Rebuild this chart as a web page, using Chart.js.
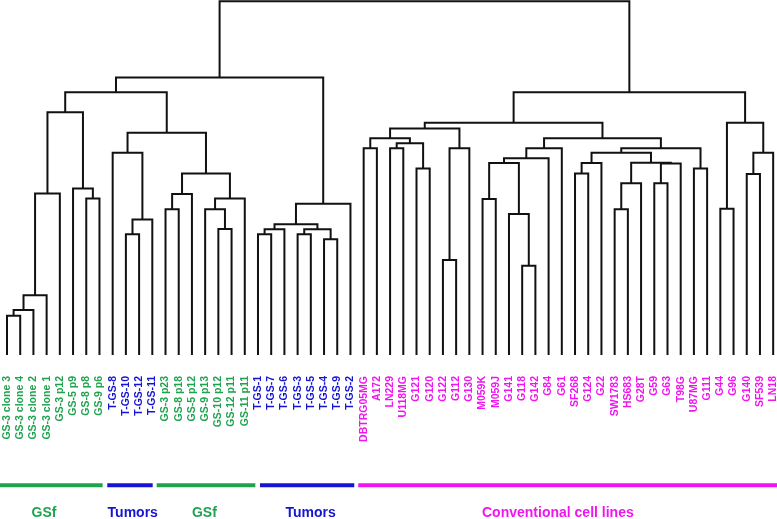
<!DOCTYPE html>
<html>
<head>
<meta charset="utf-8">
<script src="https://cdn.jsdelivr.net/npm/chart.js@4/dist/chart.umd.min.js"></script>
<style>
  html, body { margin: 0; padding: 0; background: #fff; }
  #chart { display: block; }
</style>
</head>
<body>
<canvas id="chart" width="777" height="519"></canvas>
<script>
// leaves, left to right
const leafLabels = [
  'GS-3 clone 3', 'GS-3 clone 4', 'GS-3 clone 2', 'GS-3 clone 1', 'GS-3 p12', 'GS-5 p9', 'GS-8 p8', 'GS-9 p6',
  'T-GS-8', 'T-GS-10', 'T-GS-12', 'T-GS-11',
  'GS-3 p23', 'GS-8 p18', 'GS-5 p12', 'GS-9 p13', 'GS-10 p12', 'GS-12 p11', 'GS-11 p11',
  'T-GS-1', 'T-GS-7', 'T-GS-6', 'T-GS-3', 'T-GS-5', 'T-GS-4', 'T-GS-9', 'T-GS-2',
  'DBTRG05MG', 'A172', 'LN229', 'U118MG', 'G121', 'G120', 'G122', 'G112', 'G130', 'M059K', 'M059J',
  'G141', 'G118', 'G142', 'G84', 'G61', 'SF268', 'G124', 'G22', 'SW1783', 'HS683', 'G28T', 'G59',
  'G63', 'T98G', 'U87MG', 'G111', 'G44', 'G96', 'G140', 'SF539', 'LN18',
];

// linkage: ids 0..58 are leaves, merge k creates cluster 59 + k
const mergeLeft = [
  0, 59, 60, 61, 6, 5, 62, 9, 66, 8, 12, 69, 16, 15, 72, 70, 68, 65,
  19, 77, 22, 24, 79, 78, 82, 76,
  27, 29, 31, 86, 85, 33, 90, 89, 36, 39, 38, 93, 96, 97, 43, 99, 46, 101, 49, 103, 102, 100, 52, 106, 98, 92,
  54, 56, 112, 111, 110, 84,
];
const mergeRight = [
  1, 2, 3, 4, 7, 63, 64, 10, 11, 67, 13, 14, 17, 71, 18, 73, 74, 75,
  20, 21, 23, 25, 80, 81, 26, 83,
  28, 30, 32, 87, 88, 34, 35, 91, 37, 40, 94, 95, 41, 42, 44, 45, 47, 48, 50, 51, 104, 105, 53, 107, 108, 109,
  55, 57, 58, 113, 114, 115,
];
const mergeHeight = [
  11.1, 12.7, 16.9, 45.6, 44.2, 47.0, 68.6, 34.1, 38.3, 57.1, 41.2, 45.5, 35.6, 41.2, 44.2, 51.3, 62.8, 74.2,
  34.1, 35.5, 34.1, 32.7, 35.5, 36.9, 42.7, 78.4,
  58.4, 58.4, 52.7, 59.8, 61.2, 26.8, 58.4, 64.0, 44.1, 25.2, 39.8, 54.2, 55.6, 58.4, 51.3, 54.2, 41.2, 48.5,
  48.5, 54.1, 54.3, 57.1, 52.7, 58.4, 61.2, 65.6,
  41.3, 51.1, 57.1, 65.6, 74.2, 99.9,
];

// sample groups (leaf index ranges) and the coloured bars under them
const groupNames = ['GSf', 'Tumors', 'GSf', 'Tumors', 'Conventional cell lines'];
const groupFirstLeaf = [0, 8, 12, 19, 27];
const groupLastLeaf = [7, 11, 18, 26, 58];
const groupColors = ['#1fa34f', '#1414d2', '#1fa34f', '#1414d2', '#f014f0'];
const barFrom = [-0.53, 7.59, 11.33, 19.15, 26.59];
const barTo = [7.24, 11.03, 18.80, 26.29, 58.3];
const groupTextX = [2.8, 9.52, 14.94, 22.99, 41.7];

const LEAF_LABEL_Y = -5.93;
const BAR_Y = -36.8;
const GROUP_TEXT_Y = -44.55;

const leafColor = (i) => {
  const g = groupFirstLeaf.findIndex((first, k) => i >= first && i <= groupLastLeaf[k]);
  return groupColors[g];
};

// x position / height of every node
const nodeX = leafLabels.map((_, i) => i);
const nodeH = leafLabels.map(() => 0);
const linkDatasets = [];
mergeLeft.forEach((a, k) => {
  const b = mergeRight[k];
  const h = mergeHeight[k];
  linkDatasets.push({
    data: [
      { x: nodeX[a], y: nodeH[a] },
      { x: nodeX[a], y: h },
      { x: nodeX[b], y: h },
      { x: nodeX[b], y: nodeH[b] },
    ],
    borderColor: '#111',
    borderWidth: 2,
    borderJoinStyle: 'miter',
    borderCapStyle: 'butt',
    pointRadius: 0,
    tension: 0,
  });
  nodeX.push((nodeX[a] + nodeX[b]) / 2);
  nodeH.push(h);
});

const barDatasets = barFrom.map((from, k) => ({
  data: [{ x: from, y: BAR_Y }, { x: barTo[k], y: BAR_Y }],
  borderColor: groupColors[k],
  borderWidth: 4,
  borderCapStyle: 'butt',
  pointRadius: 0,
}));

const labelsPlugin = {
  id: 'dendroLabels',
  afterDatasetsDraw(chart) {
    const { ctx, scales: { x, y } } = chart;
    ctx.save();
    ctx.font = 'bold 10.5px "Liberation Sans", Arial, sans-serif';
    ctx.textAlign = 'right';
    ctx.textBaseline = 'middle';
    leafLabels.forEach((label, i) => {
      ctx.save();
      ctx.translate(x.getPixelForValue(i), y.getPixelForValue(LEAF_LABEL_Y));
      ctx.rotate(-Math.PI / 2);
      ctx.fillStyle = leafColor(i);
      ctx.fillText(label, 0, 0);
      ctx.restore();
    });
    ctx.font = 'bold 14px "Liberation Sans", Arial, sans-serif';
    ctx.textAlign = 'center';
    groupNames.forEach((name, k) => {
      ctx.fillStyle = groupColors[k];
      ctx.fillText(name, x.getPixelForValue(groupTextX[k]), y.getPixelForValue(GROUP_TEXT_Y));
    });
    ctx.restore();
  },
};

new Chart(document.getElementById('chart'), {
  type: 'line',
  data: { datasets: [...linkDatasets, ...barDatasets] },
  options: {
    responsive: false,
    devicePixelRatio: 1,
    animation: false,
    layout: { padding: 0 },
    scales: {
      x: { type: 'linear', min: -0.53, max: 58.29, display: false },
      y: { type: 'linear', min: -46.33, max: 100.28, display: false },
    },
    plugins: {
      legend: { display: false },
      tooltip: { enabled: false },
    },
  },
  plugins: [labelsPlugin],
});
</script>
</body>
</html>
